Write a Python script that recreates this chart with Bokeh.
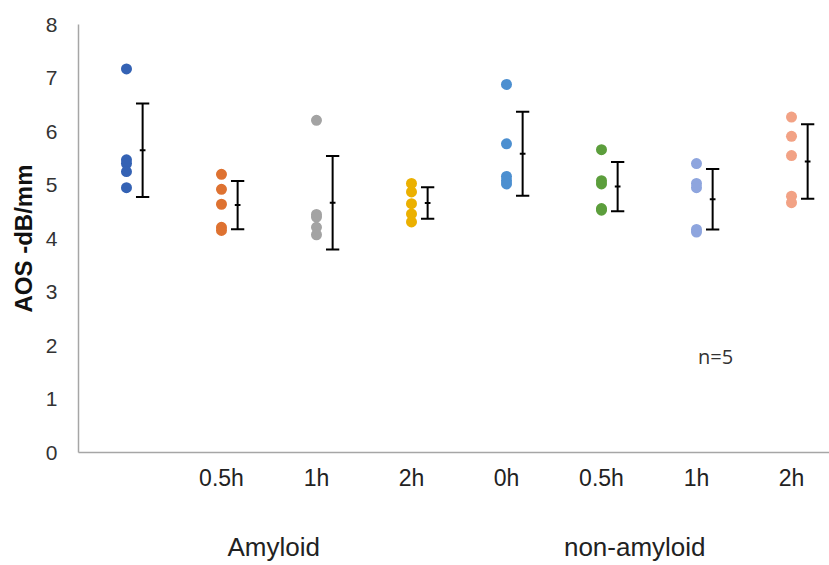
import numpy as np
from bokeh.plotting import figure
from bokeh.models import FixedTicker, Label, LinearAxis
from bokeh.embed import file_html
from bokeh.resources import INLINE

groups = ["Amyloid 0h", "Amyloid 0.5h", "Amyloid 1h", "Amyloid 2h",
          "non-amyloid 0h", "non-amyloid 0.5h", "non-amyloid 1h", "non-amyloid 2h"]
tick_labels = ["", "0.5h", "1h", "2h", "0h", "0.5h", "1h", "2h"]
colors = ["#3462B4", "#DE7231", "#A3A3A3", "#EBB000",
          "#4C8FD0", "#5C9E3C", "#8EA5DE", "#F2A285"]

amy_0h = [7.17, 5.47, 5.40, 5.25, 4.95]
amy_05h = [5.20, 4.92, 4.64, 4.21, 4.15]
amy_1h = [6.21, 4.45, 4.40, 4.21, 4.07]
amy_2h = [5.03, 4.87, 4.65, 4.46, 4.31]
non_0h = [6.88, 5.77, 5.16, 5.08, 5.02]
non_05h = [5.66, 5.08, 5.02, 4.56, 4.53]
non_1h = [5.40, 5.03, 4.95, 4.17, 4.12]
non_2h = [6.27, 5.91, 5.55, 4.79, 4.67]
series = [amy_0h, amy_05h, amy_1h, amy_2h, non_0h, non_05h, non_1h, non_2h]

group_names = ["Amyloid", "non-amyloid"]
group_centers = [2.55, 6.35]

FONT = "Liberation Sans"

p = figure(width=829, height=565, output_backend="svg", toolbar_location=None,
           x_range=(0.495, 8.4), y_range=(0, 8),
           min_border_left=78, min_border_right=0, min_border_top=24, min_border_bottom=113)
p.outline_line_color = None
p.xgrid.visible = False
p.ygrid.visible = False

# points
xs, ys, cs = [], [], []
for i, (vals, c) in enumerate(zip(series, colors)):
    for v in vals:
        xs.append(i + 1)
        ys.append(v)
        cs.append(c)
p.scatter(x=xs, y=ys, color=cs, size=11, line_color=None)

# error bars (mean +/- SD)
off = 0.17
cap = 0.07
mt = 0.03
ex, mean, lo, hi = [], [], [], []
for i, vals in enumerate(series):
    m = float(np.mean(vals))
    s = float(np.std(vals, ddof=1))
    ex.append(i + 1 + off)
    mean.append(m)
    lo.append(m - s)
    hi.append(m + s)
ex = np.array(ex)
p.segment(x0=ex, y0=lo, x1=ex, y1=hi, line_color="black", line_width=2)
p.segment(x0=ex - cap, y0=lo, x1=ex + cap, y1=lo, line_color="black", line_width=2)
p.segment(x0=ex - cap, y0=hi, x1=ex + cap, y1=hi, line_color="black", line_width=2)
p.segment(x0=ex - mt, y0=mean, x1=ex + mt, y1=mean, line_color="black", line_width=2)

# axes
p.xaxis.ticker = FixedTicker(ticks=[2, 3, 4, 5, 6, 7, 8])
p.xaxis.major_label_overrides = {i + 1: t for i, t in enumerate(tick_labels) if t}
p.xaxis.major_tick_line_color = None
p.xaxis.minor_tick_line_color = None
p.xaxis.axis_line_color = "#A6A6A6"
p.xaxis.axis_line_width = 1.5
p.xaxis.major_label_text_font = FONT
p.xaxis.major_label_text_font_size = "23px"
p.xaxis.major_label_text_color = "#222222"
p.xaxis.major_label_standoff = 6

# group labels as a second category axis
gax = LinearAxis(ticker=FixedTicker(ticks=group_centers),
                 major_label_overrides={c: n for c, n in zip(group_centers, group_names)})
gax.axis_line_color = None
gax.major_tick_line_color = None
gax.minor_tick_line_color = None
gax.major_label_text_font = FONT
gax.major_label_text_font_size = "26px"
gax.major_label_text_color = "#222222"
gax.major_label_standoff = 32
p.add_layout(gax, "below")

p.yaxis.ticker = FixedTicker(ticks=list(range(0, 9)))
p.yaxis.major_tick_line_color = None
p.yaxis.minor_tick_line_color = None
p.yaxis.axis_line_color = "#A6A6A6"
p.yaxis.axis_line_width = 1.5
p.yaxis.major_label_text_font = FONT
p.yaxis.major_label_text_font_size = "21px"
p.yaxis.major_label_text_color = "#333333"
p.yaxis.major_label_standoff = 15
p.yaxis.axis_label = "AOS -dB/mm"
p.yaxis.axis_label_text_font = FONT
p.yaxis.axis_label_text_font_style = "bold"
p.yaxis.axis_label_text_font_size = "24px"
p.yaxis.axis_label_text_color = "#111111"
p.yaxis.axis_label_standoff = 6

p.add_layout(Label(x=7.2, y=1.8, text="n=5", text_align="center", text_baseline="middle",
                   text_font="Open Sans", text_font_size="20px", text_color="#333333"))

open("out.html", "w").write(file_html(p, INLINE))
